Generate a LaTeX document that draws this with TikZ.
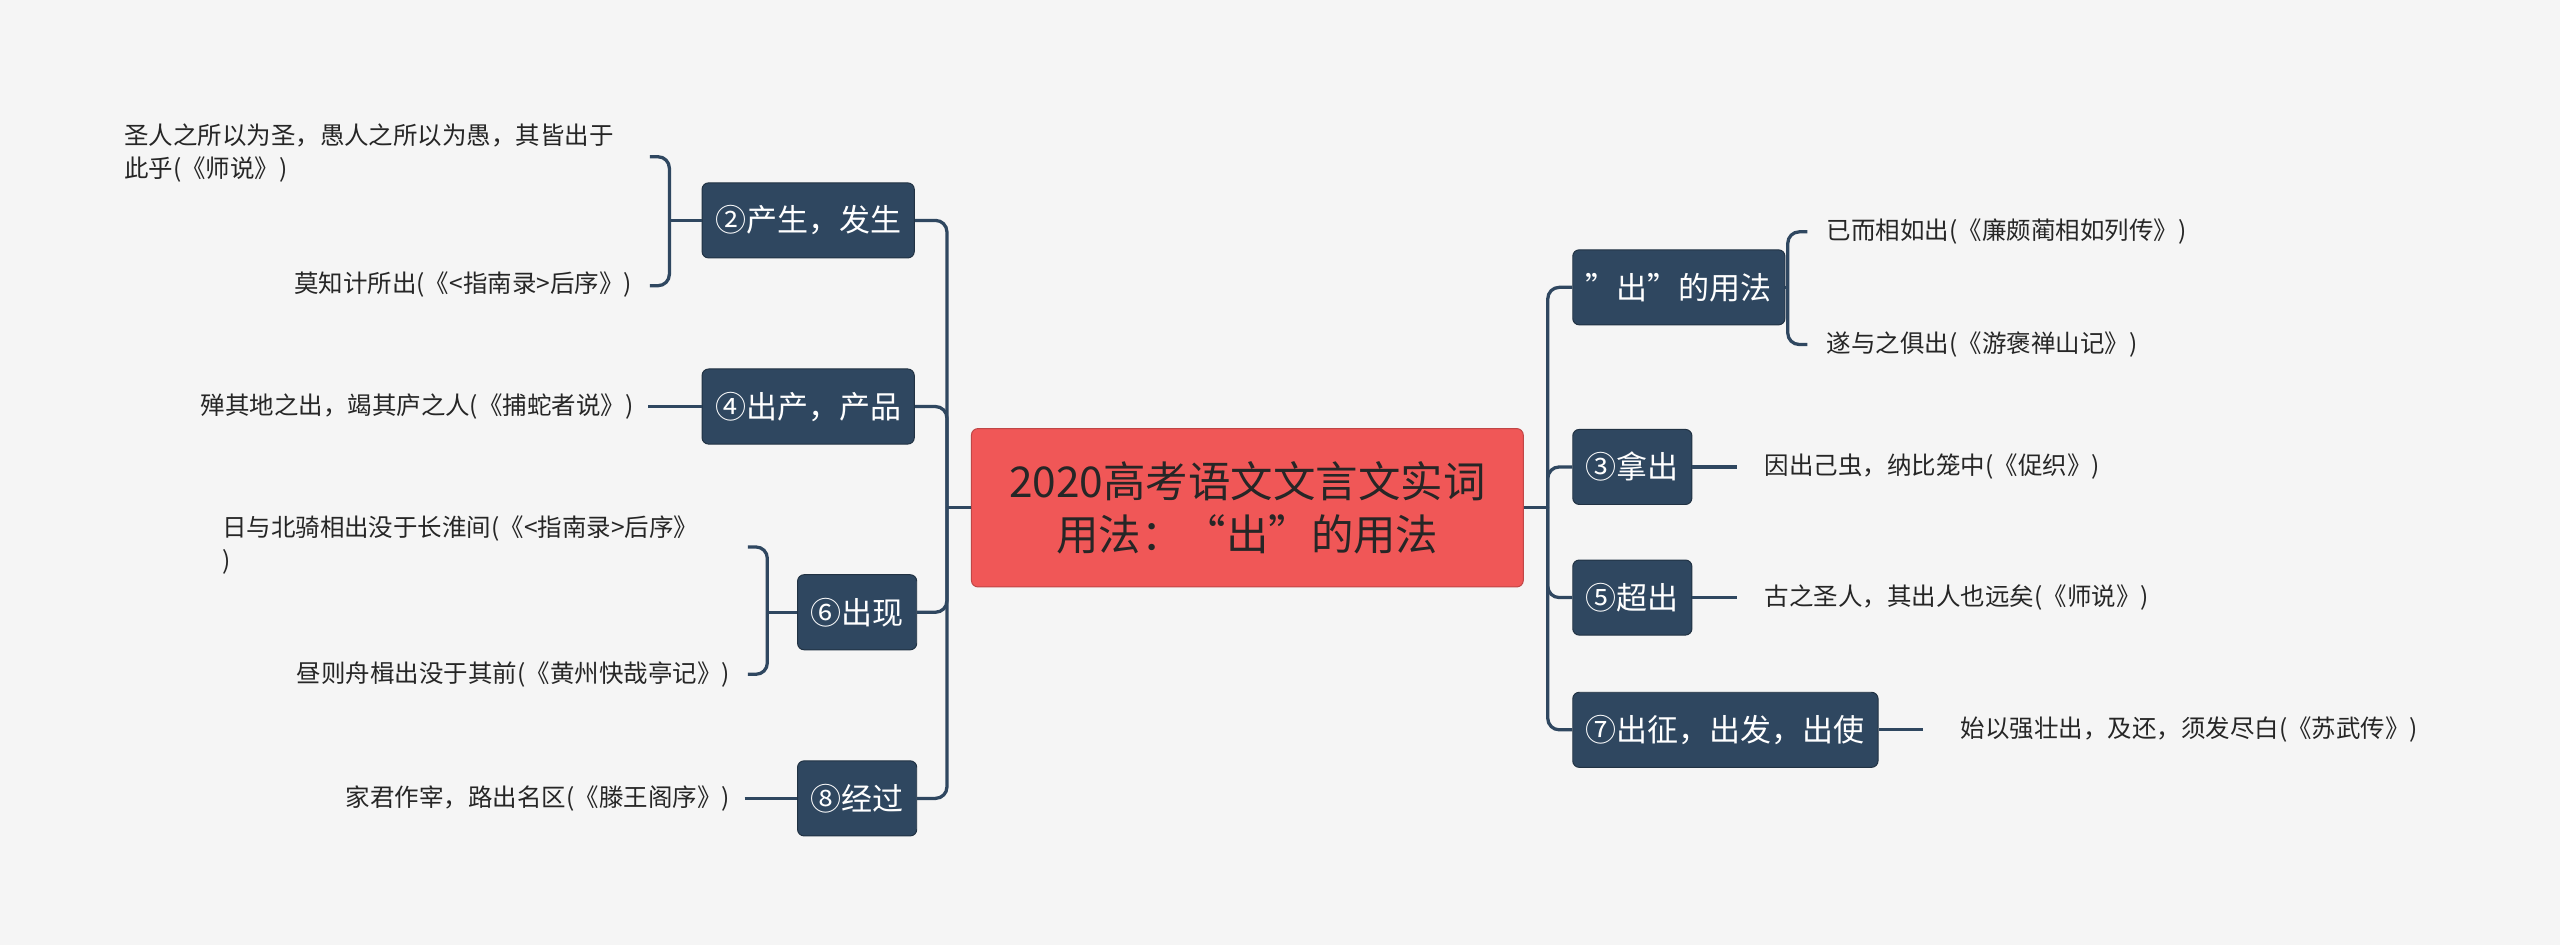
\documentclass[tikz,border=0pt]{standalone}
\usepackage{fontspec}
\setmainfont{Noto Sans CJK SC}
\usetikzlibrary{positioning}
\definecolor{bg}{HTML}{F5F5F5}
\definecolor{topic}{HTML}{2F4760}
\definecolor{root}{HTML}{F05757}
\definecolor{wire}{HTML}{2F4760}
\tikzset{
        every path/.style={line width=2pt},
        rootbox/.style={fill=root,draw=root!80!black,line width=0.6pt,rounded corners=4pt,minimum width=338pt,minimum height=97pt,align=center,font=\fontsize{26}{33}\selectfont,text=black!85},
        topicbox/.style={fill=topic,draw=topic!70!black,line width=0.6pt,rounded corners=4pt,minimum height=46pt,inner xsep=8pt,text=white,font=\fontsize{19}{22}\selectfont},
        leaf/.style={font=\fontsize{15}{20}\selectfont,text=black!85,inner sep=0pt,align=left},
        wire/.style={draw=wire,rounded corners=7pt},
        }
\begin{document}
\begin{tikzpicture}[x=1pt,y=-1pt]
			\useasboundingbox[fill=bg] (0,0) rectangle (1568,579);

			% root...................
			\node [rootbox] (root) at (764,311) {2020高考语文文言文实词\\用法：“出”的用法};

			% left topics...................
			\node [topicbox] (t2) at (495,135) {②产生，发生};
			\node [topicbox] (t4) at (495,249) {④出产，产品};
			\node [topicbox] (t6) at (525,375) {⑥出现};
			\node [topicbox] (t8) at (525,489) {⑧经过};

			% right topics...................
			\node [topicbox, anchor=west] (t1) at (963,176) {"出"的用法};
			\node [topicbox, anchor=west] (t3) at (963,286) {③拿出};
			\node [topicbox, anchor=west] (t5) at (963,366) {⑤超出};
			\node [topicbox, anchor=west] (t7) at (963,447) {⑦出征，出发，出使};

			% left leaves..............................
			\node [leaf, anchor=north west] (l2a) at (75,75) {圣人之所以为圣，愚人之所以为愚，其皆出于\\此乎(《师说》)};
			\node [leaf, anchor=east] (l2b) at (388,174) {莫知计所出(《<指南录>后序》)};
			\node [leaf, anchor=east] (l4) at (389,249) {殚其地之出，竭其庐之人(《捕蛇者说》)};
			\node [leaf, anchor=north west] (l6a) at (135,315) {日与北骑相出没于长淮间(《<指南录>后序》\\)};
			\node [leaf, anchor=east] (l6b) at (448,413) {昼则舟楫出没于其前(《黄州快哉亭记》)};
			\node [leaf, anchor=east] (l8) at (448,489) {家君作宰，路出名区(《滕王阁序》)};

			% right leaves..............................
			\node [leaf, anchor=west] (r1a) at (1118,142) {已而相如出(《廉颇蔺相如列传》)};
			\node [leaf, anchor=west] (r1b) at (1118,211) {遂与之俱出(《游褒禅山记》)};
			\node [leaf, anchor=west] (r3) at (1080,286) {因出己虫，纳比笼中(《促织》)};
			\node [leaf, anchor=west] (r5) at (1080,366) {古之圣人，其出人也远矣(《师说》)};
			\node [leaf, anchor=west] (r7) at (1200,447) {始以强壮出，及还，须发尽白(《苏武传》)};

			% root to topics.............
			\coordinate (lt) at (580,311);
			\coordinate (rt) at (948,311);
			\draw [wire] (root.west) -- (lt);
			\draw [wire] (root.east) -- (rt);
			\foreach \t in {t2,t4,t6,t8}
				\draw [wire] (lt) |- (\t.east);
			\foreach \t in {t1,t3,t5,t7}
				\draw [wire] (rt) |- (\t.west);

			% brackets.........
			\draw [wire] (398,96) -- (410,96) -- (410,175) -- (398,175);
			\draw [wire] (410,135) -- (t2.west);
			\draw [wire] (458,335) -- (470,335) -- (470,413) -- (458,413);
			\draw [wire] (470,375) -- (t6.west);
			\draw [wire] (1107,142) -- (1095,142) -- (1095,211) -- (1107,211);
			\draw [wire] (t1.east) -- (1095,176);

			% single leaves.........
			\draw [wire] (l4.east) ++(8,0) -- (t4.west);
			\draw [wire] (l8.east) ++(8,0) -- (t8.west);
			\draw [wire] (t3.east) -- ++(27,0);
			\draw [wire] (t5.east) -- ++(27,0);
			\draw [wire] (t7.east) -- ++(27,0);
		\end{tikzpicture}
\end{document}
